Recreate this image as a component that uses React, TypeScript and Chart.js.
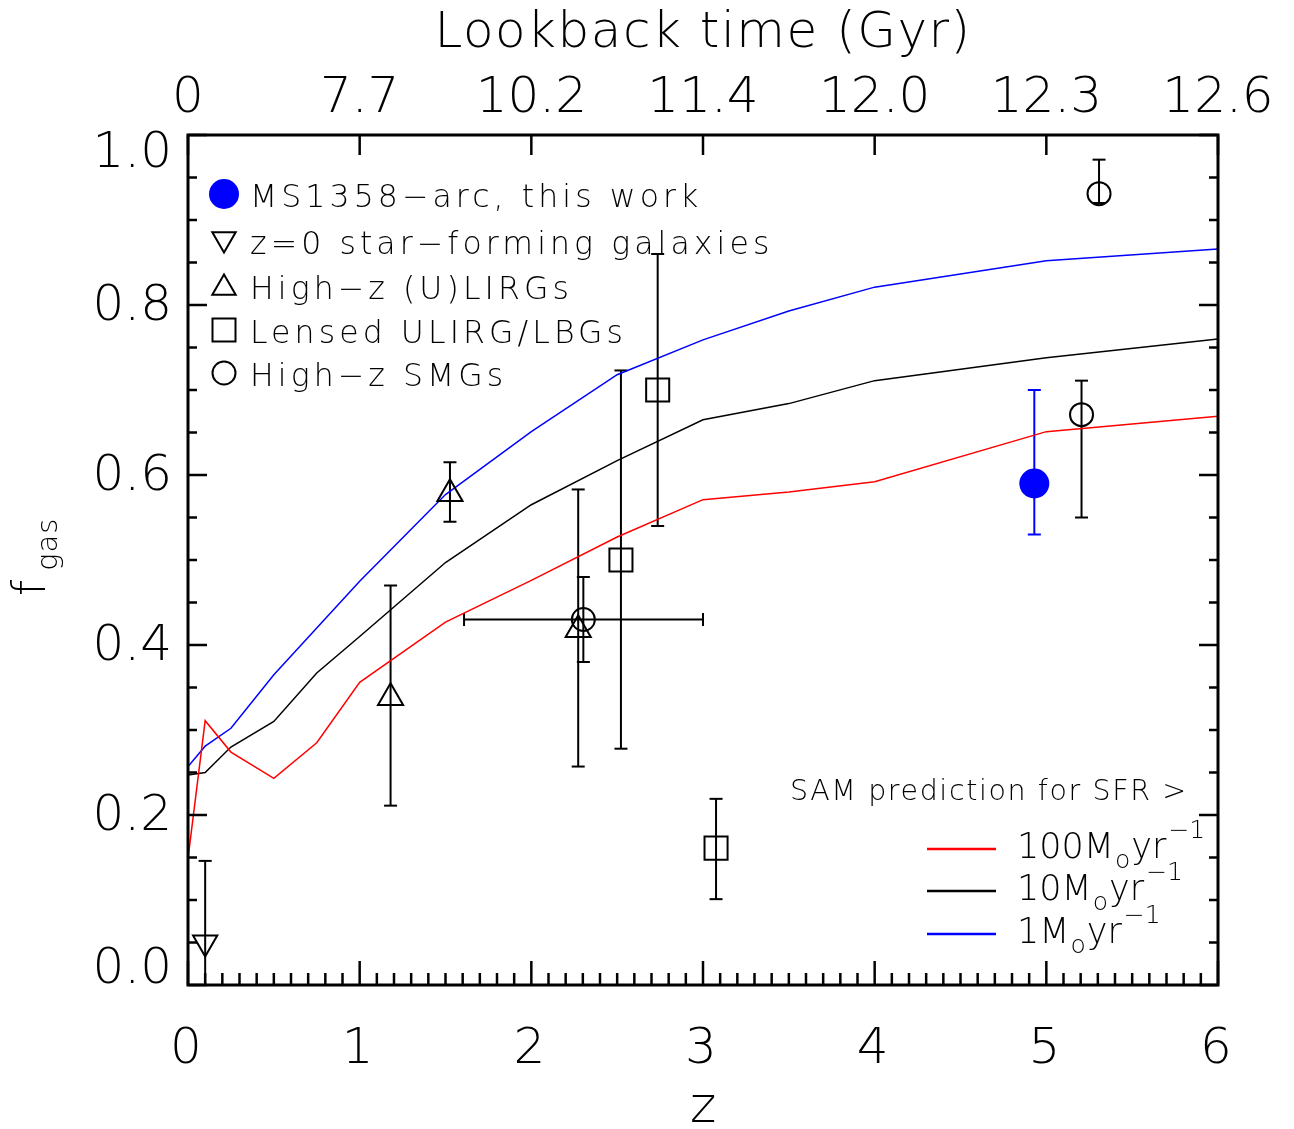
import React, { useEffect, useRef } from 'react';
import { Chart, registerables } from 'chart.js';

Chart.register(...registerables);

// ---------- data ----------
const samZ = [0, 0.1, 0.25, 0.5, 0.75, 1, 1.5, 2, 2.5, 3, 3.5, 4, 5, 6];
const sam100 = [0.149, 0.311, 0.274, 0.243, 0.285, 0.356, 0.427, 0.476, 0.527, 0.571, 0.58, 0.592, 0.651, 0.669];
const sam10 = [0.247, 0.25, 0.28, 0.31, 0.367, 0.41, 0.497, 0.565, 0.617, 0.665, 0.684, 0.711, 0.738, 0.76];
const sam1 = [0.257, 0.281, 0.302, 0.365, 0.42, 0.475, 0.577, 0.651, 0.718, 0.759, 0.793, 0.821, 0.852, 0.866];

const thisWorkZ = [4.93];
const thisWorkF = [0.59];
const thisWorkLo = [0.53];
const thisWorkHi = [0.70];

const localZ = [0.1];
const localF = [0.05];
const localLo = [0.0];
const localHi = [0.146];

const ulirgZ = [1.18, 1.526, 2.273];
const ulirgF = [0.338, 0.578, 0.418];
const ulirgLo = [0.211, 0.545, 0.257];
const ulirgHi = [0.47, 0.615, 0.583];

const lensedZ = [2.522, 2.736, 3.076];
const lensedF = [0.5, 0.7, 0.161];
const lensedLo = [0.278, 0.54, 0.101];
const lensedHi = [0.723, 0.86, 0.219];

const smgZ = [2.303, 5.205, 5.307];
const smgF = [0.43, 0.671, 0.931];
const smgLo = [0.38, 0.55, 0.92];
const smgHi = [0.48, 0.711, 0.971];
const smgZLo = [1.608, null, null];
const smgZHi = [3.0, null, null];

const xTickValues = [0, 1, 2, 3, 4, 5, 6];
const xTickLabels = ['0', '1', '2', '3', '4', '5', '6'];
const topTickLabels = ['0', '7.7', '10.2', '11.4', '12.0', '12.3', '12.6'];
const yTickValues = [0, 0.2, 0.4, 0.6, 0.8, 1.0];
const yTickLabels = ['0.0', '0.2', '0.4', '0.6', '0.8', '1.0'];

const legendLabels = [
  'MS1358\u2212arc, this work',
  'z=0 star\u2212forming galaxies',
  'High\u2212z (U)LIRGs',
  'Lensed ULIRG/LBGs',
  'High\u2212z SMGs',
];
const samTitle = 'SAM prediction for SFR >';
const samLegendValues = ['100', '10', '1'];
const samColors = ['#ff0000', '#000000', '#0000ff'];

const RED = '#ff0000';
const BLUE = '#0000ff';
const BLACK = '#000000';
const FAMILY = "'DejaVu Sans', 'Liberation Sans', sans-serif";
const font = (size: number, weight = 200) => `${weight} ${size}px ${FAMILY}`;

const pts = (xs: number[], ys: number[]) => xs.map((x, i) => ({ x, y: ys[i] }));

const errorGroups = [
  { z: localZ, f: localF, lo: localLo, hi: localHi, zLo: null as any, zHi: null as any, color: BLACK },
  { z: ulirgZ, f: ulirgF, lo: ulirgLo, hi: ulirgHi, zLo: null as any, zHi: null as any, color: BLACK },
  { z: lensedZ, f: lensedF, lo: lensedLo, hi: lensedHi, zLo: null as any, zHi: null as any, color: BLACK },
  { z: smgZ, f: smgF, lo: smgLo, hi: smgHi, zLo: smgZLo, zHi: smgZHi, color: BLACK },
  { z: thisWorkZ, f: thisWorkF, lo: thisWorkLo, hi: thisWorkHi, zLo: null as any, zHi: null as any, color: BLUE },
];

function seg(ctx: CanvasRenderingContext2D, x1: number, y1: number, x2: number, y2: number) {
  ctx.beginPath();
  ctx.moveTo(x1, y1);
  ctx.lineTo(x2, y2);
  ctx.stroke();
}

const errorBarPlugin = {
  id: 'errorBars',
  beforeDatasetsDraw(chart: any) {
    const { ctx, chartArea: a, scales } = chart;
    const xs = scales.x;
    const ys = scales.y;
    ctx.save();
    ctx.beginPath();
    ctx.rect(a.left, a.top, a.right - a.left, a.bottom - a.top);
    ctx.clip();
    ctx.lineWidth = 2;
    const cap = 6.5;
    for (const g of errorGroups) {
      ctx.strokeStyle = g.color;
      g.z.forEach((z: number, i: number) => {
        const x = xs.getPixelForValue(z);
        const yLo = ys.getPixelForValue(g.lo[i]);
        const yHi = ys.getPixelForValue(g.hi[i]);
        seg(ctx, x, yLo, x, yHi);
        seg(ctx, x - cap, yHi, x + cap, yHi);
        seg(ctx, x - cap, yLo, x + cap, yLo);
        if (g.zLo && g.zLo[i] != null) {
          const y = ys.getPixelForValue(g.f[i]);
          const xl = xs.getPixelForValue(g.zLo[i]);
          const xr = xs.getPixelForValue(g.zHi[i]);
          seg(ctx, xl, y, xr, y);
          seg(ctx, xl, y - cap, xl, y + cap);
          seg(ctx, xr, y - cap, xr, y + cap);
        }
      });
    }
    ctx.restore();
  },
};

function drawTri(ctx: CanvasRenderingContext2D, x: number, y: number, r: number, down: boolean) {
  const s = down ? -1 : 1;
  const w = r * Math.sqrt(3) / 2;
  ctx.beginPath();
  ctx.moveTo(x, y - s * r);
  ctx.lineTo(x + w, y + s * r / 2);
  ctx.lineTo(x - w, y + s * r / 2);
  ctx.closePath();
  ctx.stroke();
}

const framePlugin = {
  id: 'frame',
  afterDraw(chart: any) {
    const { ctx, chartArea: a, scales } = chart;
    const xs = scales.x;
    const ys = scales.y;
    ctx.save();
    ctx.strokeStyle = BLACK;
    ctx.fillStyle = BLACK;

    // frame
    ctx.lineWidth = 3;
    ctx.lineJoin = 'miter';
    ctx.strokeRect(a.left, a.top, a.right - a.left, a.bottom - a.top);

    // ticks
    ctx.lineWidth = 2.5;
    for (let i = 0; i <= 60; i++) {
      const x = xs.getPixelForValue(i / 10);
      const len = i % 10 === 0 ? 24 : 12;
      seg(ctx, x, a.bottom, x, a.bottom - len);
    }
    for (const v of xTickValues) {
      const x = xs.getPixelForValue(v);
      seg(ctx, x, a.top, x, a.top + 20);
    }
    for (let i = 0; i <= 20; i++) {
      const y = ys.getPixelForValue(i * 0.05);
      const len = i % 4 === 0 ? 19 : 9;
      seg(ctx, a.left, y, a.left + len, y);
      seg(ctx, a.right, y, a.right - len, y);
    }

    // tick labels
    ctx.font = font(50);
    ctx.textAlign = 'center';
    ctx.textBaseline = 'alphabetic';
    xTickValues.forEach((v, i) => {
      const x = xs.getPixelForValue(v);
      ctx.fillText(xTickLabels[i], x - 2, a.bottom + 78);
      ctx.fillText(topTickLabels[i], x, a.top - 23);
    });
    ctx.textAlign = 'right';
    ctx.textBaseline = 'middle';
    yTickValues.forEach((v, i) => {
      let y = ys.getPixelForValue(v);
      y = Math.max(a.top + 17, Math.min(a.bottom - 17, y));
      ctx.fillText(yTickLabels[i], a.left - 16, y + 2);
    });

    // axis titles
    ctx.textAlign = 'center';
    ctx.textBaseline = 'alphabetic';
    ctx.font = font(50);
    (ctx as any).letterSpacing = '1.5px';
    ctx.fillText('Lookback time (Gyr)', (a.left + a.right) / 2, 47);
    (ctx as any).letterSpacing = '0px';
    ctx.fillText('z', (a.left + a.right) / 2, 1122);

    // y title (rotated)
    ctx.save();
    ctx.translate(45, 596);
    ctx.rotate(-Math.PI / 2);
    ctx.textAlign = 'left';
    ctx.font = font(46);
    ctx.fillText('f', 0, 0);
    const fw = ctx.measureText('f').width;
    ctx.font = font(29);
    (ctx as any).letterSpacing = '1px';
    ctx.fillText('gas', fw + 9, 12);
    (ctx as any).letterSpacing = '0px';
    ctx.restore();

    // top-left legend
    const lx = 224;
    const ly = [194, 241, 286, 330, 373];
    ctx.lineWidth = 2;
    ctx.fillStyle = BLUE;
    ctx.beginPath();
    ctx.arc(lx, ly[0], 15, 0, Math.PI * 2);
    ctx.fill();
    ctx.strokeStyle = BLACK;
    drawTri(ctx, lx, ly[1] - 2, 13.5, true);
    drawTri(ctx, lx, ly[2] + 2, 13.5, false);
    ctx.strokeRect(lx - 11.5, ly[3] - 11.5, 23, 23);
    ctx.beginPath();
    ctx.arc(lx, ly[4], 11.5, 0, Math.PI * 2);
    ctx.stroke();

    ctx.fillStyle = BLACK;
    ctx.font = font(31.5);
    ctx.textAlign = 'left';
    ctx.textBaseline = 'alphabetic';
    (ctx as any).letterSpacing = '4.1px';
    legendLabels.forEach((t, i) => {
      ctx.fillText(t, 250, ly[i] + 13);
    });

    // SAM legend
    ctx.font = font(28.5);
    (ctx as any).letterSpacing = '1.6px';
    ctx.fillText(samTitle, 790, 800);
    (ctx as any).letterSpacing = '0px';
    const rowY = [849, 891, 934];
    samLegendValues.forEach((v, i) => {
      const y = rowY[i];
      ctx.strokeStyle = samColors[i];
      ctx.lineWidth = 2.5;
      seg(ctx, 927, y, 996, y);
      let x = 1017;
      const base = y + 9;
      ctx.fillStyle = BLACK;
      ctx.font = font(35);
      (ctx as any).letterSpacing = '0px';
      const main = v + 'M';
      ctx.fillText(main, x, base);
      x += ctx.measureText(main).width + 1;
      ctx.font = font(25);
      ctx.fillText('o', x, base + 10);
      x += ctx.measureText('o').width + 1;
      ctx.font = font(35);
      ctx.fillText('yr', x, base);
      x += ctx.measureText('yr').width + 2;
      ctx.font = font(25);
      ctx.fillText('\u22121', x, base - 20);
    });

    ctx.restore();
  },
};

export default function App() {
  const ref = useRef<HTMLCanvasElement>(null);
  useEffect(() => {
    document.body.style.margin = '0';
    document.body.style.overflow = 'hidden';
    const canvas = ref.current!;
    const markerCommon = { showLine: false, borderWidth: 2 };
    const datasets: any[] = [
      {
        ...markerCommon,
        label: 'MS1358-arc, this work',
        data: pts(thisWorkZ, thisWorkF),
        pointStyle: 'circle',
        pointRadius: 15,
        pointBackgroundColor: BLUE,
        pointBorderColor: BLUE,
        pointBorderWidth: 0,
      },
      {
        ...markerCommon,
        label: 'z=0 star-forming galaxies',
        data: pts(localZ, localF),
        pointStyle: 'triangle',
        pointRotation: 180,
        pointRadius: 14,
        pointBackgroundColor: 'rgba(0,0,0,0)',
        pointBorderColor: BLACK,
        pointBorderWidth: 2,
      },
      {
        ...markerCommon,
        label: 'High-z (U)LIRGs',
        data: pts(ulirgZ, ulirgF),
        pointStyle: 'triangle',
        pointRadius: 14.5,
        pointBackgroundColor: 'rgba(0,0,0,0)',
        pointBorderColor: BLACK,
        pointBorderWidth: 2,
      },
      {
        ...markerCommon,
        label: 'Lensed ULIRG/LBGs',
        data: pts(lensedZ, lensedF),
        pointStyle: 'rect',
        pointRadius: 16.3,
        pointBackgroundColor: 'rgba(0,0,0,0)',
        pointBorderColor: BLACK,
        pointBorderWidth: 2,
      },
      {
        ...markerCommon,
        label: 'High-z SMGs',
        data: pts(smgZ, smgF),
        pointStyle: 'circle',
        pointRadius: 11.5,
        pointBackgroundColor: 'rgba(0,0,0,0)',
        pointBorderColor: BLACK,
        pointBorderWidth: 2,
      },
      {
        label: '100',
        data: pts(samZ, sam100),
        showLine: true,
        borderColor: RED,
        borderWidth: 1.5,
        pointRadius: 0,
        fill: false,
        tension: 0,
      },
      {
        label: '10',
        data: pts(samZ, sam10),
        showLine: true,
        borderColor: BLACK,
        borderWidth: 1.5,
        pointRadius: 0,
        fill: false,
        tension: 0,
      },
      {
        label: '1',
        data: pts(samZ, sam1),
        showLine: true,
        borderColor: BLUE,
        borderWidth: 1.5,
        pointRadius: 0,
        fill: false,
        tension: 0,
      },
    ];
    const chart = new Chart(canvas, {
      type: 'scatter',
      data: { datasets },
      options: {
        responsive: false,
        animation: false,
        events: [],
        layout: { padding: { left: 188, right: 76, top: 135, bottom: 144 } },
        scales: {
          x: { type: 'linear', min: 0, max: 6, display: false },
          y: { type: 'linear', min: 0, max: 1, display: false },
        },
        plugins: { legend: { display: false }, tooltip: { enabled: false } },
      },
      plugins: [errorBarPlugin, framePlugin],
    } as any);
    return () => chart.destroy();
  }, []);
  return (
    <div style={{ width: 1294, height: 1129, background: '#fff' }}>
      <canvas ref={ref} width={1294} height={1129} style={{ display: 'block' }} />
    </div>
  );
}
